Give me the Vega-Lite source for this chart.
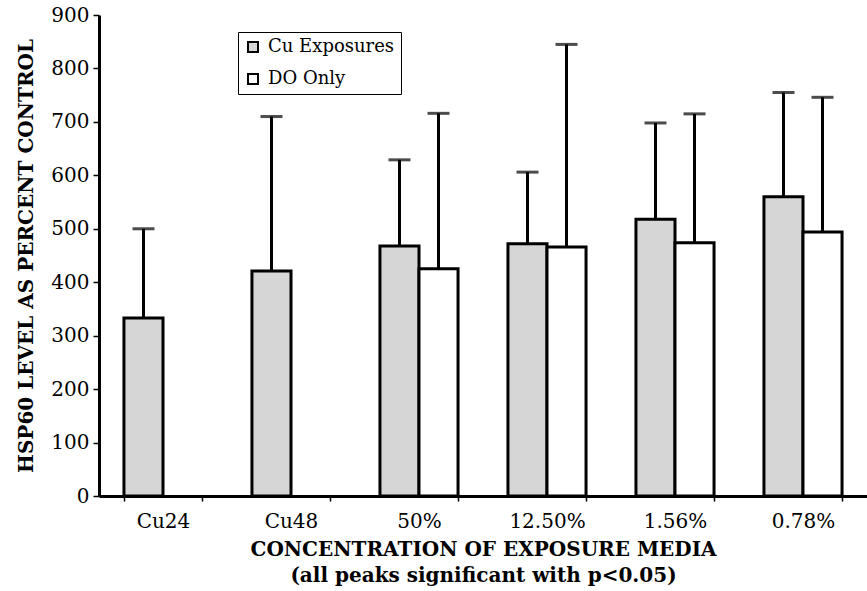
{
  "$schema": "https://vega.github.io/schema/vega-lite/v6.json",
  "width": 768,
  "height": 481,
  "autosize": {"type": "none"},
  "padding": {"left": 99, "top": 15, "right": 0, "bottom": 95},
  "background": "white",
  "config": {
    "view": {"stroke": null},
    "font": "DejaVu Serif",
    "axis": {"labelFont": "DejaVu Serif", "titleFont": "DejaVu Serif", "labelColor": "black", "titleColor": "black", "domainColor": "black", "tickColor": "black", "grid": false}
  },
  "data": {
    "values": [
      {"cat": "Cu24", "series": "Cu Exposures", "value": 333, "err": 500},
      {"cat": "Cu48", "series": "Cu Exposures", "value": 421, "err": 710},
      {"cat": "50%", "series": "Cu Exposures", "value": 468, "err": 629},
      {"cat": "50%", "series": "DO Only", "value": 425, "err": 716},
      {"cat": "12.50%", "series": "Cu Exposures", "value": 472, "err": 606},
      {"cat": "12.50%", "series": "DO Only", "value": 466, "err": 845},
      {"cat": "1.56%", "series": "Cu Exposures", "value": 518, "err": 698},
      {"cat": "1.56%", "series": "DO Only", "value": 474, "err": 715},
      {"cat": "0.78%", "series": "Cu Exposures", "value": 560, "err": 755},
      {"cat": "0.78%", "series": "DO Only", "value": 494, "err": 746}
    ]
  },
  "encoding": {
    "x": {
      "field": "cat", "type": "nominal",
      "sort": ["Cu24", "Cu48", "50%", "12.50%", "1.56%", "0.78%"],
      "scale": {"paddingInner": 0.39, "paddingOuter": 0.195},
      "axis": {
        "labelAngle": 0, "labelFontSize": 20, "labelPadding": 10,
        "domainWidth": 3, "tickBand": "extent", "tickSize": 5, "tickWidth": 1.5,
        "title": ["CONCENTRATION OF EXPOSURE MEDIA", "(all peaks significant with p<0.05)"],
        "titleFontSize": 20, "titleFontWeight": "bold", "titleLineHeight": 26, "titlePadding": 8
      }
    },
    "xOffset": {"field": "series", "type": "nominal", "scale": {"domain": ["Cu Exposures", "DO Only"], "paddingInner": 0, "paddingOuter": 0}}
  },
  "layer": [
    {
      "mark": {"type": "bar", "stroke": "black", "strokeWidth": 3},
      "encoding": {
        "y": {
          "field": "value", "type": "quantitative",
          "scale": {"domain": [0, 900], "nice": false},
          "axis": {
            "values": [0, 100, 200, 300, 400, 500, 600, 700, 800, 900],
            "labelFontSize": 20, "labelPadding": 4, "domainWidth": 3, "tickSize": 6, "tickWidth": 1.5,
            "title": "HSP60 LEVEL AS PERCENT CONTROL", "titleFontSize": 20, "titleFontWeight": "bold", "titlePadding": 14
          }
        },
        "fill": {
          "field": "series", "type": "nominal",
          "scale": {"domain": ["Cu Exposures", "DO Only"], "range": ["#d6d6d6", "#ffffff"]},
          "legend": {
            "title": null, "orient": "none", "legendX": 139, "legendY": 17,
            "labelFontSize": 18, "labelFont": "DejaVu Serif", "labelColor": "black", "labelOffset": 6,
            "symbolType": "square", "symbolSize": 100, "symbolStrokeColor": "black", "symbolStrokeWidth": 2,
            "rowPadding": 14, "padding": 6, "strokeColor": "black", "fillColor": "white"
          }
        }
      }
    },
    {
      "mark": {"type": "rule", "color": "black", "strokeWidth": 3},
      "encoding": {
        "y": {"field": "value", "type": "quantitative"},
        "y2": {"field": "err"}
      }
    },
    {
      "mark": {"type": "tick", "color": "black", "thickness": 3, "size": 22, "orient": "horizontal"},
      "encoding": {
        "y": {"field": "err", "type": "quantitative"}
      }
    }
  ]
}
